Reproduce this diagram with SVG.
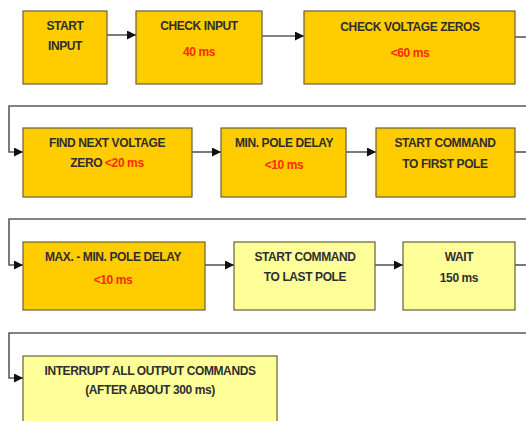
<svg xmlns="http://www.w3.org/2000/svg" width="526" height="421" viewBox="0 0 526 421">
<style>
.dk{fill:#FFCC00;stroke:#66623A;stroke-width:1.2}
.lt{fill:#FFFF99;stroke:#66623A;stroke-width:1.2}
text{font-family:"Liberation Sans",Arial,sans-serif;font-weight:bold;font-size:12px;letter-spacing:-0.4px;fill:#2E2E2E;text-anchor:middle}
.r{fill:#FF2A00}
.c{fill:none;stroke:#5A5A5A;stroke-width:1.6}
</style>
<defs>
<marker id="ah" viewBox="0 0 10 10" refX="10" refY="5" markerWidth="9" markerHeight="9" markerUnits="userSpaceOnUse" orient="auto">
<path d="M0,0 L10,5 L0,10 z" fill="#111"/>
</marker>
</defs>
<rect width="526" height="421" fill="#fff"/>
<g id="connectors">
<path class="c" d="M107,35 H136" marker-end="url(#ah)"/>
<path class="c" d="M262,36 H304" marker-end="url(#ah)"/>
<path class="c" d="M515,37 H526"/>
<path class="c" d="M526,106 H9 V152 H23" marker-end="url(#ah)"/>
<path class="c" d="M192,152 H221" marker-end="url(#ah)"/>
<path class="c" d="M346,152 H376" marker-end="url(#ah)"/>
<path class="c" d="M515,152 H526"/>
<path class="c" d="M526,219 H9 V265 H23" marker-end="url(#ah)"/>
<path class="c" d="M205,265 H234" marker-end="url(#ah)"/>
<path class="c" d="M375,265 H403" marker-end="url(#ah)"/>
<path class="c" d="M515,265 H526"/>
<path class="c" d="M526,333 H9 V378 H23" marker-end="url(#ah)"/>
</g>
<g id="start-input">
<rect class="dk" x="23" y="11" width="84" height="73"/>
<text x="65" y="30">START</text>
<text x="65" y="50">INPUT</text>
</g>
<g id="check-input">
<rect class="dk" x="136" y="11" width="126" height="73"/>
<text x="199" y="30">CHECK INPUT</text>
<text class="r" x="199" y="56">40 ms</text>
</g>
<g id="check-voltage-zeros">
<rect class="dk" x="304" y="11" width="211" height="73"/>
<text x="410" y="31">CHECK VOLTAGE ZEROS</text>
<text class="r" x="410" y="57">&lt;60 ms</text>
</g>
<g id="find-next-voltage-zero">
<rect class="dk" x="23" y="128" width="169" height="69"/>
<text x="107" y="147">FIND NEXT VOLTAGE</text>
<text x="107" y="167">ZERO <tspan class="r">&lt;20 ms</tspan></text>
</g>
<g id="min-pole-delay">
<rect class="dk" x="221" y="128" width="125" height="69"/>
<text x="284" y="147">MIN. POLE DELAY</text>
<text class="r" x="284" y="169">&lt;10 ms</text>
</g>
<g id="start-command-first-pole">
<rect class="dk" x="376" y="128" width="139" height="69"/>
<text x="445" y="147">START COMMAND</text>
<text x="445" y="168">TO FIRST POLE</text>
</g>
<g id="max-min-pole-delay">
<rect class="dk" x="23" y="242" width="182" height="68"/>
<text x="113" y="261">MAX. - MIN. POLE DELAY</text>
<text class="r" x="113" y="284">&lt;10 ms</text>
</g>
<g id="start-command-last-pole">
<rect class="lt" x="234" y="242" width="141" height="68"/>
<text x="305" y="261">START COMMAND</text>
<text x="305" y="281">TO LAST POLE</text>
</g>
<g id="wait">
<rect class="lt" x="403" y="242" width="112" height="68"/>
<text x="459" y="261">WAIT</text>
<text x="459" y="282">150 ms</text>
</g>
<g id="interrupt">
<rect class="lt" x="23" y="356" width="254" height="70"/>
<text x="150" y="375">INTERRUPT ALL OUTPUT COMMANDS</text>
<text x="150" y="394">(AFTER ABOUT 300 ms)</text>
</g>
</svg>
